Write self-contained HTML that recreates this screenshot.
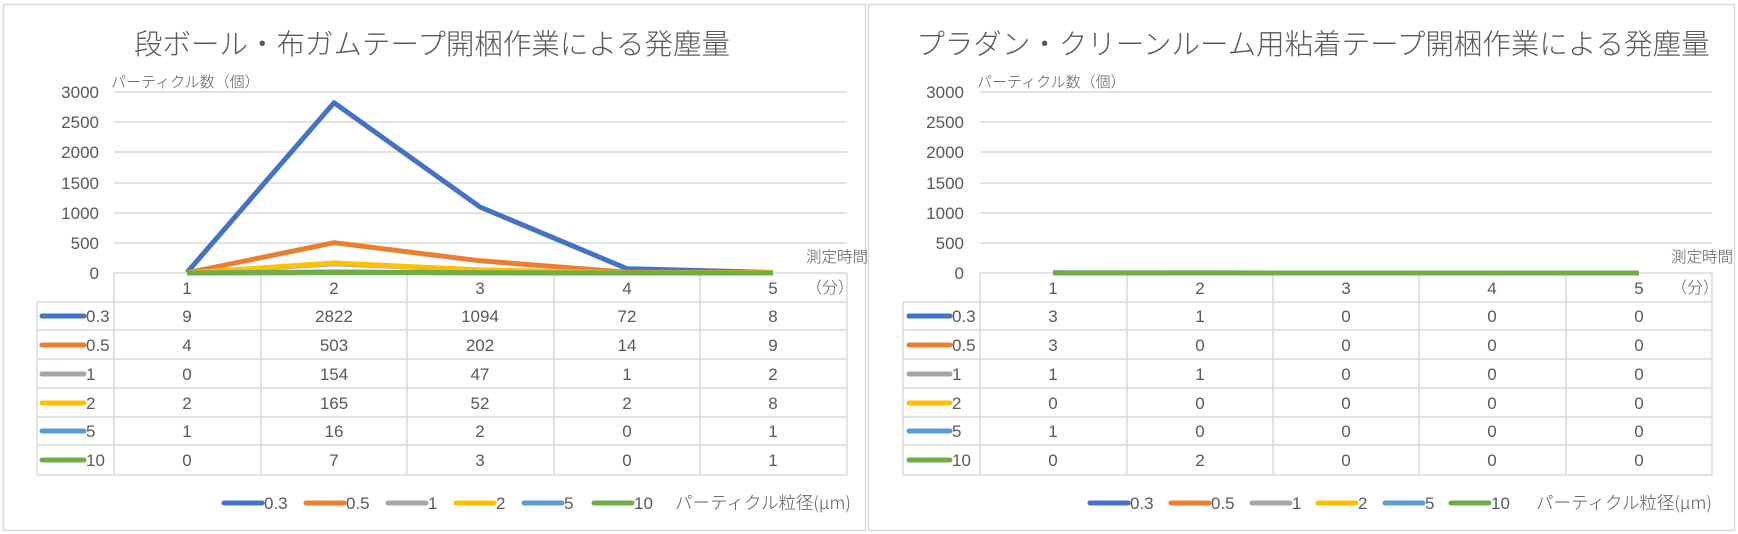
<!DOCTYPE html>
<html><head><meta charset="utf-8"><style>
html,body{margin:0;padding:0;background:#fff;}
svg{display:block;font-family:"Liberation Sans","Noto Sans CJK JP",sans-serif;}
</style></head><body>
<svg width="1738" height="534" viewBox="0 0 1738 534" xmlns="http://www.w3.org/2000/svg">
<rect x="0" y="0" width="1738" height="534" fill="#fff"/>
<rect x="3.5" y="4.5" width="862" height="526" fill="none" stroke="#d9d9d9" stroke-width="1.5"/>
<rect x="868.5" y="4.5" width="866" height="526" fill="none" stroke="#d9d9d9" stroke-width="1.5"/>

<g id="left">
<text x="432" y="54" font-size="28.5" fill="#595959" text-anchor="middle" font-family="'Noto Sans CJK JP',sans-serif" font-weight="300">段ボール・布ガムテープ開梱作業による発塵量</text>
<text x="111" y="87" font-size="15" fill="#595959" font-family="'Noto Sans CJK JP',sans-serif" font-weight="300">パーティクル数（個）</text>
<g stroke="#d9d9d9" stroke-width="1.5">
<line x1="114" y1="92" x2="847" y2="92"/><line x1="114" y1="122" x2="847" y2="122"/><line x1="114" y1="152" x2="847" y2="152"/><line x1="114" y1="183" x2="847" y2="183"/><line x1="114" y1="213" x2="847" y2="213"/><line x1="114" y1="243" x2="847" y2="243"/>
<line x1="114" y1="273" x2="847" y2="273"/>
<line x1="37" y1="302" x2="847" y2="302"/><line x1="37" y1="330" x2="847" y2="330"/><line x1="37" y1="359" x2="847" y2="359"/><line x1="37" y1="388" x2="847" y2="388"/><line x1="37" y1="417" x2="847" y2="417"/><line x1="37" y1="445" x2="847" y2="445"/><line x1="37" y1="475" x2="847" y2="475"/>
<line x1="114" y1="273" x2="114" y2="475"/><line x1="261" y1="273" x2="261" y2="475"/><line x1="407" y1="273" x2="407" y2="475"/><line x1="554" y1="273" x2="554" y2="475"/><line x1="700" y1="273" x2="700" y2="475"/><line x1="847" y1="273" x2="847" y2="475"/>
<line x1="37" y1="302" x2="37" y2="475"/>
</g>
<g font-size="17" fill="#595959" text-anchor="end">
<text x="99" y="98">3000</text><text x="99" y="128">2500</text><text x="99" y="158">2000</text><text x="99" y="189">1500</text><text x="99" y="219">1000</text><text x="99" y="249">500</text><text x="99" y="279">0</text>
</g>
<text x="806" y="262" font-size="15.5" fill="#595959" font-family="'Noto Sans CJK JP',sans-serif" font-weight="300">測定時間</text>
<text x="806" y="293" font-size="16" fill="#595959" font-family="'Noto Sans CJK JP',sans-serif" font-weight="300">（分）</text>
<g font-size="17" fill="#595959" text-anchor="middle">
<text x="187" y="294">1</text><text x="334" y="294">2</text><text x="480" y="294">3</text><text x="627" y="294">4</text><text x="773" y="294">5</text>
<text x="187" y="322">9</text><text x="334" y="322">2822</text><text x="480" y="322">1094</text><text x="627" y="322">72</text><text x="773" y="322">8</text>
<text x="187" y="351">4</text><text x="334" y="351">503</text><text x="480" y="351">202</text><text x="627" y="351">14</text><text x="773" y="351">9</text>
<text x="187" y="380">0</text><text x="334" y="380">154</text><text x="480" y="380">47</text><text x="627" y="380">1</text><text x="773" y="380">2</text>
<text x="187" y="409">2</text><text x="334" y="409">165</text><text x="480" y="409">52</text><text x="627" y="409">2</text><text x="773" y="409">8</text>
<text x="187" y="437">1</text><text x="334" y="437">16</text><text x="480" y="437">2</text><text x="627" y="437">0</text><text x="773" y="437">1</text>
<text x="187" y="466">0</text><text x="334" y="466">7</text><text x="480" y="466">3</text><text x="627" y="466">0</text><text x="773" y="466">1</text>
</g>
<g stroke-width="5" stroke-linecap="round">
<line x1="42" y1="316" x2="84" y2="316" stroke="#4472c4"/>
<line x1="42" y1="345" x2="84" y2="345" stroke="#ed7d31"/>
<line x1="42" y1="374" x2="84" y2="374" stroke="#a5a5a5"/>
<line x1="42" y1="403" x2="84" y2="403" stroke="#ffc000"/>
<line x1="42" y1="431" x2="84" y2="431" stroke="#5b9bd5"/>
<line x1="42" y1="460" x2="84" y2="460" stroke="#70ad47"/>
</g>
<g font-size="17" fill="#595959">
<text x="86" y="322">0.3</text><text x="86" y="351">0.5</text><text x="86" y="380">1</text><text x="86" y="409">2</text><text x="86" y="437">5</text><text x="86" y="466">10</text>
</g>
<g fill="none" stroke-width="5" stroke-linejoin="round">
<polyline stroke="#4472c4" points="187,272.5 334,102.7 480,207 627,268.7 773,272.5"/>
<polyline stroke="#ed7d31" points="187,272.8 334,242.7 480,260.8 627,272.2 773,272.5"/>
<polyline stroke="#a5a5a5" points="187,273 334,263.7 480,270.2 627,273 773,272.9"/>
<polyline stroke="#ffc000" points="187,272.9 334,263 480,269.9 627,272.9 773,272.5"/>
<polyline stroke="#5b9bd5" points="187,273 334,272 480,272.9 627,273 773,273"/>
<polyline stroke="#70ad47" points="187,273 334,272.6 480,272.8 627,273 773,273"/>
</g>
<g stroke-width="5" stroke-linecap="round">
<line x1="224" y1="503" x2="262" y2="503" stroke="#4472c4"/>
<line x1="306" y1="503" x2="344" y2="503" stroke="#ed7d31"/>
<line x1="388" y1="503" x2="426" y2="503" stroke="#a5a5a5"/>
<line x1="456" y1="503" x2="494" y2="503" stroke="#ffc000"/>
<line x1="524" y1="503" x2="562" y2="503" stroke="#5b9bd5"/>
<line x1="594" y1="503" x2="632" y2="503" stroke="#70ad47"/>
</g>
<g font-size="17" fill="#595959">
<text x="264" y="509">0.3</text><text x="346" y="509">0.5</text><text x="428" y="509">1</text><text x="496" y="509">2</text><text x="564" y="509">5</text><text x="634" y="509">10</text>
<text x="675" y="509" font-size="17.5" font-family="'Noto Sans CJK JP',sans-serif" font-weight="300">パーティクル粒径(µm)</text>
</g>
</g>

<g id="right">
<text x="1313" y="54" font-size="28.5" fill="#595959" text-anchor="middle" font-family="'Noto Sans CJK JP',sans-serif" font-weight="300">プラダン・クリーンルーム用粘着テープ開梱作業による発塵量</text>
<text x="977" y="87" font-size="15" fill="#595959" font-family="'Noto Sans CJK JP',sans-serif" font-weight="300">パーティクル数（個）</text>
<g stroke="#d9d9d9" stroke-width="1.5">
<line x1="980" y1="92" x2="1712" y2="92"/><line x1="980" y1="122" x2="1712" y2="122"/><line x1="980" y1="152" x2="1712" y2="152"/><line x1="980" y1="183" x2="1712" y2="183"/><line x1="980" y1="213" x2="1712" y2="213"/><line x1="980" y1="243" x2="1712" y2="243"/>
<line x1="980" y1="273" x2="1712" y2="273"/>
<line x1="903" y1="302" x2="1712" y2="302"/><line x1="903" y1="330" x2="1712" y2="330"/><line x1="903" y1="359" x2="1712" y2="359"/><line x1="903" y1="388" x2="1712" y2="388"/><line x1="903" y1="417" x2="1712" y2="417"/><line x1="903" y1="445" x2="1712" y2="445"/><line x1="903" y1="475" x2="1712" y2="475"/>
<line x1="980" y1="273" x2="980" y2="475"/><line x1="1127" y1="273" x2="1127" y2="475"/><line x1="1273" y1="273" x2="1273" y2="475"/><line x1="1419" y1="273" x2="1419" y2="475"/><line x1="1566" y1="273" x2="1566" y2="475"/><line x1="1712" y1="273" x2="1712" y2="475"/>
<line x1="903" y1="302" x2="903" y2="475"/>
</g>
<g font-size="17" fill="#595959" text-anchor="end">
<text x="964" y="98">3000</text><text x="964" y="128">2500</text><text x="964" y="158">2000</text><text x="964" y="189">1500</text><text x="964" y="219">1000</text><text x="964" y="249">500</text><text x="964" y="279">0</text>
</g>
<text x="1671" y="262" font-size="15.5" fill="#595959" font-family="'Noto Sans CJK JP',sans-serif" font-weight="300">測定時間</text>
<text x="1671" y="293" font-size="16" fill="#595959" font-family="'Noto Sans CJK JP',sans-serif" font-weight="300">（分）</text>
<g font-size="17" fill="#595959" text-anchor="middle">
<text x="1053" y="294">1</text><text x="1200" y="294">2</text><text x="1346" y="294">3</text><text x="1492" y="294">4</text><text x="1639" y="294">5</text>
<text x="1053" y="322">3</text><text x="1200" y="322">1</text><text x="1346" y="322">0</text><text x="1492" y="322">0</text><text x="1639" y="322">0</text>
<text x="1053" y="351">3</text><text x="1200" y="351">0</text><text x="1346" y="351">0</text><text x="1492" y="351">0</text><text x="1639" y="351">0</text>
<text x="1053" y="380">1</text><text x="1200" y="380">1</text><text x="1346" y="380">0</text><text x="1492" y="380">0</text><text x="1639" y="380">0</text>
<text x="1053" y="409">0</text><text x="1200" y="409">0</text><text x="1346" y="409">0</text><text x="1492" y="409">0</text><text x="1639" y="409">0</text>
<text x="1053" y="437">1</text><text x="1200" y="437">0</text><text x="1346" y="437">0</text><text x="1492" y="437">0</text><text x="1639" y="437">0</text>
<text x="1053" y="466">0</text><text x="1200" y="466">2</text><text x="1346" y="466">0</text><text x="1492" y="466">0</text><text x="1639" y="466">0</text>
</g>
<g stroke-width="5" stroke-linecap="round">
<line x1="909" y1="316" x2="950" y2="316" stroke="#4472c4"/>
<line x1="909" y1="345" x2="950" y2="345" stroke="#ed7d31"/>
<line x1="909" y1="374" x2="950" y2="374" stroke="#a5a5a5"/>
<line x1="909" y1="403" x2="950" y2="403" stroke="#ffc000"/>
<line x1="909" y1="431" x2="950" y2="431" stroke="#5b9bd5"/>
<line x1="909" y1="460" x2="950" y2="460" stroke="#70ad47"/>
</g>
<g font-size="17" fill="#595959">
<text x="952" y="322">0.3</text><text x="952" y="351">0.5</text><text x="952" y="380">1</text><text x="952" y="409">2</text><text x="952" y="437">5</text><text x="952" y="466">10</text>
</g>
<g fill="none" stroke-width="5">
<polyline stroke="#4472c4" points="1053,272.8 1200,272.9 1346,273 1492,273 1639,273"/>
<polyline stroke="#ffc000" points="1053,273 1200,273 1346,273 1492,273 1639,273"/>
<polyline stroke="#70ad47" points="1053,273 1200,272.9 1346,273 1492,273 1639,273"/>
</g>
<g stroke-width="5" stroke-linecap="round">
<line x1="1090" y1="503" x2="1128" y2="503" stroke="#4472c4"/>
<line x1="1171" y1="503" x2="1209" y2="503" stroke="#ed7d31"/>
<line x1="1252" y1="503" x2="1290" y2="503" stroke="#a5a5a5"/>
<line x1="1318" y1="503" x2="1356" y2="503" stroke="#ffc000"/>
<line x1="1385" y1="503" x2="1423" y2="503" stroke="#5b9bd5"/>
<line x1="1451" y1="503" x2="1489" y2="503" stroke="#70ad47"/>
</g>
<g font-size="17" fill="#595959">
<text x="1130" y="509">0.3</text><text x="1211" y="509">0.5</text><text x="1292" y="509">1</text><text x="1358" y="509">2</text><text x="1425" y="509">5</text><text x="1491" y="509">10</text>
<text x="1536" y="509" font-size="17.5" font-family="'Noto Sans CJK JP',sans-serif" font-weight="300">パーティクル粒径(µm)</text>
</g>
</g>
</svg>
</body></html>
